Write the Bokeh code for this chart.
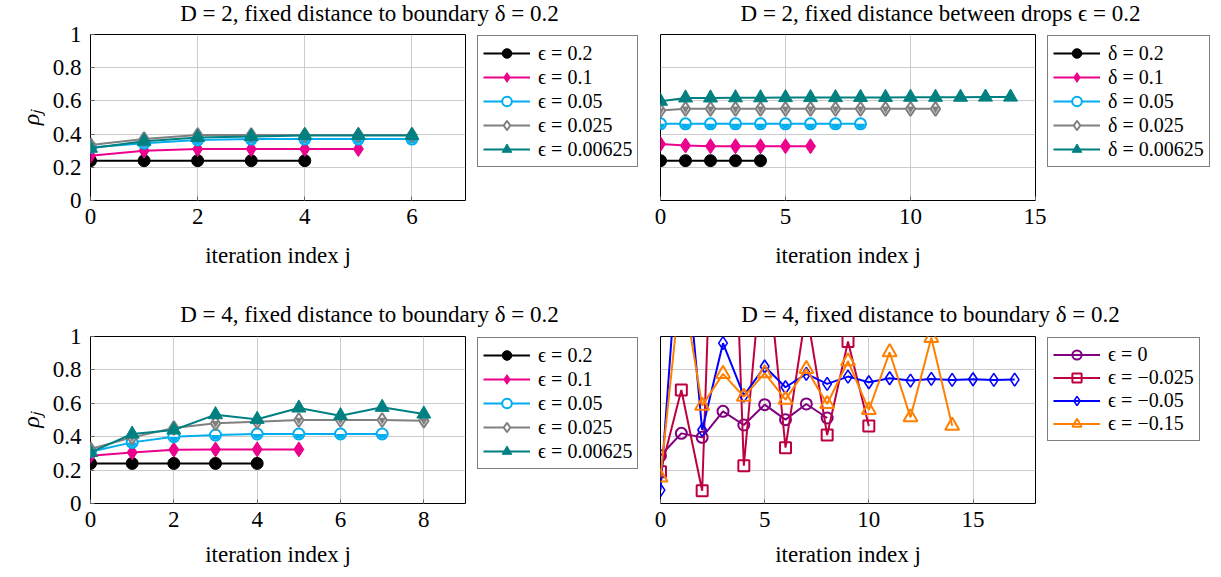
import math
from bokeh.plotting import figure
from bokeh.layouts import column, row
from bokeh.models import (Legend, LegendItem, FixedTicker, NumeralTickFormatter,
                          Range1d, ColumnDataSource, CDSView, BooleanFilter, Label,
                          Spacer)
from bokeh.core.properties import value
from bokeh.embed import file_html
from bokeh.resources import INLINE

FONT = "Liberation Serif"

# ---------------- data ----------------
y_ticks = [0, 0.2, 0.4, 0.6, 0.8, 1]

# top-left: D = 2, fixed distance to boundary
tl_title = "D = 2, fixed distance to boundary δ = 0.2"
tl_labels = ["ϵ = 0.2", "ϵ = 0.1", "ϵ = 0.05", "ϵ = 0.025", "ϵ = 0.00625"]
tl_x_ticks = [0, 2, 4, 6]
tl_x_max = 7
tl_eps_0_2 = [0.24, 0.24, 0.24, 0.24, 0.24]
tl_eps_0_1 = [0.27, 0.30, 0.31, 0.31, 0.31, 0.31]
tl_eps_0_05 = [0.32, 0.345, 0.365, 0.37, 0.37, 0.37, 0.37]
tl_eps_0_025 = [0.335, 0.37, 0.395, 0.395, 0.395, 0.395, 0.395]
tl_eps_0_00625 = [0.315, 0.357, 0.38, 0.385, 0.392, 0.392, 0.392]

# top-right: D = 2, fixed distance between drops
tr_title = "D = 2, fixed distance between drops ϵ = 0.2"
tr_labels = ["δ = 0.2", "δ = 0.1", "δ = 0.05", "δ = 0.025", "δ = 0.00625"]
tr_x_ticks = [0, 5, 10, 15]
tr_x_max = 15
tr_delta_0_2 = [0.24, 0.24, 0.24, 0.24, 0.24]
tr_delta_0_1 = [0.34, 0.331, 0.327, 0.327, 0.327, 0.327, 0.327]
tr_delta_0_05 = [0.462, 0.462, 0.462, 0.462, 0.462, 0.462, 0.462, 0.462, 0.462]
tr_delta_0_025 = [0.542, 0.552, 0.552, 0.552, 0.552, 0.552, 0.552, 0.552, 0.552,
                  0.552, 0.552, 0.552]
tr_delta_0_00625 = [0.598, 0.618, 0.618, 0.619, 0.619, 0.62, 0.62, 0.62, 0.621,
                    0.621, 0.622, 0.622, 0.622, 0.623, 0.623]

# bottom-left: D = 4, fixed distance to boundary
bl_title = "D = 4, fixed distance to boundary δ = 0.2"
bl_labels = ["ϵ = 0.2", "ϵ = 0.1", "ϵ = 0.05", "ϵ = 0.025", "ϵ = 0.00625"]
bl_x_ticks = [0, 2, 4, 6, 8]
bl_x_max = 9
bl_eps_0_2 = [0.24, 0.24, 0.24, 0.24, 0.24]
bl_eps_0_1 = [0.286, 0.306, 0.322, 0.324, 0.324, 0.324]
bl_eps_0_05 = [0.31, 0.366, 0.40, 0.41, 0.416, 0.416, 0.416, 0.416]
bl_eps_0_025 = [0.326, 0.396, 0.452, 0.48, 0.49, 0.50, 0.50, 0.50, 0.496]
bl_eps_0_00625 = [0.306, 0.416, 0.44, 0.532, 0.504, 0.572, 0.526, 0.576, 0.536]

# bottom-right: D = 4, fixed distance to boundary, negative epsilon
br_title = "D = 4, fixed distance to boundary δ = 0.2"
br_labels = ["ϵ = 0", "ϵ = −0.025", "ϵ = −0.05", "ϵ = −0.15"]
br_x_ticks = [0, 5, 10, 15]
br_x_max = 18
br_eps_0 = [0.286, 0.42, 0.396, 0.552, 0.47, 0.592, 0.502, 0.596, 0.512]
br_eps_m0_025 = [0.19, 0.68, 0.076, 3.7, 0.226, 1.6, 0.334, 1.16, 0.41, 0.97, 0.464]
br_eps_m0_05 = [0.08, 1.8, 0.44, 0.96, 0.646, 0.82, 0.696, 0.776, 0.716, 0.76,
                0.726, 0.75, 0.736, 0.746, 0.74, 0.744, 0.74, 0.742]
br_eps_m0_15 = [0.156, 1.35, 0.586, 0.776, 0.64, 0.78, 0.622, 0.806, 0.596, 0.852,
                0.56, 0.906, 0.516, 0.992, 0.466]

# ---------------- styles ----------------
STY5 = [
    dict(color="#000000", marker="circle", size=12, fill="#000000", half=None, lw=1),
    dict(color="#EC008C", marker="diamond", size=15, fill="#EC008C", half=None, lw=1),
    dict(color="#00AEEF", marker="circle", size=11, fill="white", half="circle", lw=2),
    dict(color="#808080", marker="diamond", size=14, fill="white", half="diamond", lw=2),
    dict(color="#008080", marker="triangle", size=14, fill="#008080", half=None, lw=1),
]
STY4 = [
    dict(color="#800080", marker="circle", size=11, fill=None, half=None, lw=2),
    dict(color="#BF0040", marker="square", size=11, fill=None, half=None, lw=2),
    dict(color="#0000FF", marker="diamond", size=13, fill=None, half=None, lw=1.6),
    dict(color="#FF8000", marker="triangle", size=14, fill=None, half=None, lw=2),
]


def blank(width, height, x_range=(0, 1)):
    f = figure(width=width, height=height, x_range=Range1d(*x_range),
               y_range=Range1d(0, 1), output_backend="svg", title=None,
               toolbar_location=None, x_axis_location=None,
               y_axis_location=None, min_border=0)
    f.outline_line_color = None
    f.xgrid.visible = False
    f.ygrid.visible = False
    return f


def title_fig(text, width, height, cx, cy):
    f = blank(width, height)
    f.add_layout(Label(x=cx, y=cy, x_units="screen", y_units="screen",
                       text=text, text_align="center",
                       text_baseline="middle", text_font=FONT,
                       text_font_size="23px", text_color="black"))
    return f


def legend_col(series, labels, styles, width, height, top_gap, row_h):
    # the view is placed left of the data, so the series themselves stay hidden
    f = blank(width, height - top_gap, x_range=(-3, -2))
    items = []
    for ys, lab, st in zip(series, labels, styles):
        src = ColumnDataSource(dict(x=list(range(len(ys))), y=ys))
        ln = f.line("x", "y", source=src, line_color=st["color"], line_width=2)
        sc = f.scatter("x", "y", source=src, marker=st["marker"],
                       line_color=st["color"], line_width=st["lw"],
                       fill_color=st["fill"])
        items.append(LegendItem(label=value(lab), renderers=[ln, sc]))
    leg = Legend(items=items, location="top_left",
                 orientation="vertical", padding=5, spacing=0, margin=1,
                 glyph_width=47, glyph_height=row_h, label_height=row_h,
                 label_standoff=8, label_text_font=FONT,
                 label_text_font_size="20px", label_text_color="black",
                 border_line_color="black", border_line_width=1,
                 background_fill_color="white", background_fill_alpha=1)
    f.add_layout(leg)
    return column(Spacer(width=width, height=top_gap), f)


def panel(series, styles, x_max, x_ticks, frame_h, left, top, bottom,
          label_standoff):
    p = figure(frame_width=375, frame_height=frame_h,
               x_range=Range1d(0, x_max), y_range=Range1d(0, 1),
               output_backend="svg", toolbar_location=None,
               min_border_left=90 if left else 12, min_border_right=11,
               min_border_top=top, min_border_bottom=bottom)
    p.outline_line_color = "black"
    p.outline_line_width = 1

    p.xgrid.ticker = FixedTicker(ticks=x_ticks)
    p.ygrid.ticker = FixedTicker(ticks=y_ticks)
    for g in (p.xgrid, p.ygrid):
        g.grid_line_color = "#cccccc"
        g.grid_line_width = 1
    xa = p.xaxis[0]
    xa.ticker = FixedTicker(ticks=x_ticks)
    xa.axis_line_color = None
    xa.major_tick_in = 4
    xa.major_tick_out = 0
    xa.major_tick_line_color = "#666666"
    xa.minor_tick_line_color = None
    xa.major_label_text_font = FONT
    xa.major_label_text_font_size = "23px"
    xa.major_label_text_color = "black"
    xa.major_label_standoff = 8
    xa.axis_label = "iteration index j"
    xa.axis_label_text_font = FONT
    xa.axis_label_text_font_size = "23px"
    xa.axis_label_text_font_style = "normal"
    xa.axis_label_text_color = "black"
    xa.axis_label_standoff = label_standoff
    ya = p.yaxis[0]
    if left:
        ya.ticker = FixedTicker(ticks=y_ticks)
        ya.formatter = NumeralTickFormatter(format="0.[0]")
        ya.axis_line_color = None
        ya.major_tick_in = 4
        ya.major_tick_out = 0
        ya.major_tick_line_color = "#666666"
        ya.minor_tick_line_color = None
        ya.major_label_text_font = FONT
        ya.major_label_text_font_size = "23px"
        ya.major_label_text_color = "black"
        ya.major_label_standoff = 9
        ya.axis_label = "ρⱼ"
        ya.axis_label_text_font = FONT
        ya.axis_label_text_font_size = "24px"
        ya.axis_label_text_font_style = "italic"
        ya.axis_label_text_color = "black"
        ya.axis_label_standoff = 6
    else:
        ya.visible = False

    for ys, st in zip(series, styles):
        xs = list(range(len(ys)))
        src = ColumnDataSource(dict(x=xs, y=ys))
        p.line("x", "y", source=src, line_color=st["color"], line_width=2)
        inside = BooleanFilter(booleans=[0 <= v <= 1 for v in ys])
        p.scatter("x", "y", source=src, view=CDSView(filter=inside),
                  marker=st["marker"], size=st["size"],
                  line_color=st["color"], line_width=st["lw"],
                  fill_color=st["fill"])
        if st["half"] == "circle":
            p.wedge("x", "y", source=src, radius=st["size"] / 2 - 1,
                    radius_units="screen", start_angle=math.pi,
                    end_angle=2 * math.pi, fill_color=st["color"],
                    line_color=None)
        elif st["half"] == "diamond":
            p.scatter("x", "y", source=src, marker="inverted_triangle",
                      size=8, fill_color=st["color"], line_color=None)
    return p


# column widths: left plot | left legend | right plot | right legend
W_P1, W_L1, W_P2, W_L2 = 476, 172, 398, 175
H_T1, H_R1, H_T2, H_R2 = 26, 270, 31, 249

tl_series = [tl_eps_0_2, tl_eps_0_1, tl_eps_0_05, tl_eps_0_025, tl_eps_0_00625]
tr_series = [tr_delta_0_2, tr_delta_0_1, tr_delta_0_05, tr_delta_0_025, tr_delta_0_00625]
bl_series = [bl_eps_0_2, bl_eps_0_1, bl_eps_0_05, bl_eps_0_025, bl_eps_0_00625]
br_series = [br_eps_0, br_eps_m0_025, br_eps_m0_05, br_eps_m0_15]

t1 = title_fig(tl_title, W_P1 + W_L1, H_T1, 369, 13)
t2 = title_fig(tr_title, W_P2 + W_L2, H_T1, 292, 13)
p1 = panel(tl_series, STY5, tl_x_max, tl_x_ticks, 166, True, 8, 96, 16)
l1 = legend_col(tl_series, tl_labels, STY5, W_L1, H_R1, 8, 24)
p2 = panel(tr_series, STY5, tr_x_max, tr_x_ticks, 166, False, 8, 96, 16)
l2 = legend_col(tr_series, tr_labels, STY5, W_L2, H_R1, 8, 24)

t3 = title_fig(bl_title, W_P1 + W_L1, H_T2, 369, 13)
t4 = title_fig(br_title, W_P2 + W_L2, H_T2, 282, 13)
p3 = panel(bl_series, STY5, bl_x_max, bl_x_ticks, 167, True, 9, 73, 12)
l3 = legend_col(bl_series, bl_labels, STY5, W_L1, H_R2, 9, 24)
p4 = panel(br_series, STY4, br_x_max, br_x_ticks, 167, False, 9, 73, 12)
l4 = legend_col(br_series, br_labels, STY4, W_L2, H_R2, 9, 23)

layout = column(row(t1, t2), row(p1, l1, p2, l2),
                row(t3, t4), row(p3, l3, p4, l4))
open("out.html", "w").write(file_html(layout, INLINE))
